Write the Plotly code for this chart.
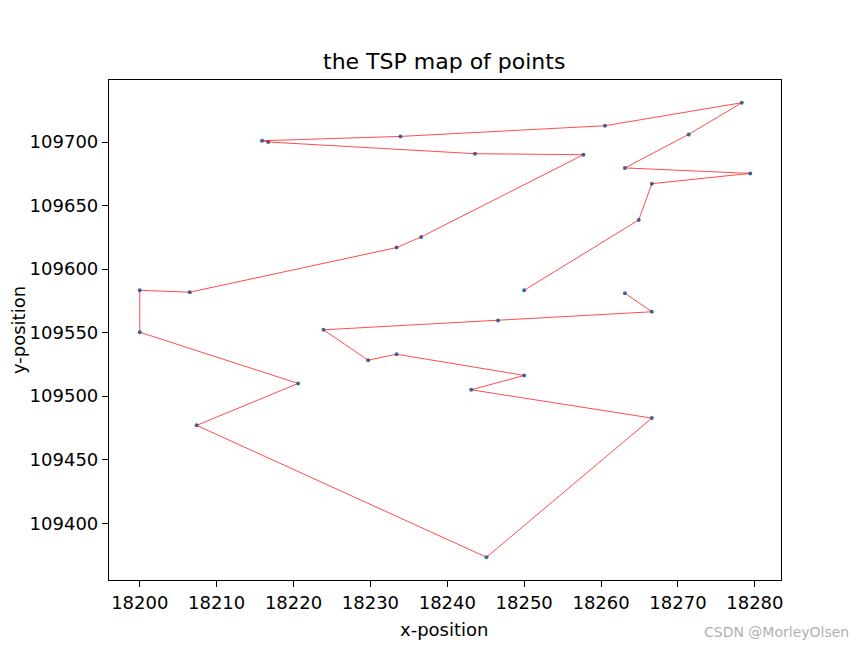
import plotly.graph_objects as go

# TSP tour order
xs = [18250.0, 18264.9, 18266.6, 18279.4, 18263.1, 18271.4, 18278.3, 18260.5,
      18233.9, 18215.9, 18216.7, 18243.6, 18257.7, 18236.6, 18233.4, 18206.5,
      18200.0, 18200.0, 18220.6, 18207.4, 18245.1, 18266.6, 18243.1, 18250.0,
      18233.4, 18229.7, 18223.9, 18246.6, 18266.6, 18263.1]
ys = [109583.3, 109638.7, 109667.2, 109675.3, 109679.6, 109706.0, 109730.9, 109712.8,
      109704.4, 109701.0, 109700.0, 109690.8, 109690.0, 109625.3, 109616.9, 109581.8,
      109583.3, 109550.3, 109510.0, 109477.0, 109373.2, 109482.7, 109505.0, 109516.3,
      109533.0, 109528.3, 109552.2, 109559.5, 109566.4, 109581.0]

x_ticks = [18200, 18210, 18220, 18230, 18240, 18250, 18260, 18270, 18280]
y_ticks = [109400, 109450, 109500, 109550, 109600, 109650, 109700]

FONT = "DejaVu Sans"

fig = go.Figure()
fig.add_trace(go.Scatter(x=xs, y=ys, mode="markers",
                         marker=dict(size=4, color="#1f77b4"), hoverinfo="skip"))
fig.add_trace(go.Scatter(x=xs, y=ys, mode="lines",
                         line=dict(color="rgba(255,0,0,0.7)", width=1)))

axis_common = dict(showgrid=False, zeroline=False, showline=True, linecolor="black",
                   linewidth=1.2, mirror=True, ticks="outside", ticklen=6,
                   tickwidth=1.2, tickcolor="black", automargin=False,
                   tickfont=dict(family=FONT, size=18, color="black"))

fig.update_xaxes(range=[18196.0, 18283.4], tickvals=x_ticks,
                 ticktext=[str(v) for v in x_ticks], **axis_common)
fig.update_yaxes(range=[109355.3, 109748.8], tickvals=y_ticks,
                 ticktext=[str(v) for v in y_ticks],
                 title=dict(text="y-position", standoff=2,
                            font=dict(family=FONT, size=18, color="black")),
                 **axis_common)

# the page body adds an 8px offset; margins compensate so the plot area
# sits at x 109..781, y 80..580 in the window
pw, ph = 672, 500
L, T = 109, 80
fig.update_layout(
    width=866, height=651,
    margin=dict(l=L - 8, r=866 + 8 - 781, t=T - 8, b=651 + 8 - 580),
    paper_bgcolor="white", plot_bgcolor="white",
    showlegend=False,
    annotations=[
        dict(text="the TSP map of points", xref="paper", yref="paper",
             x=(444 - L) / pw, y=(T - 62) / ph + 1, xanchor="center", yanchor="middle",
             showarrow=False, font=dict(family=FONT, size=22, color="black")),
        dict(text="x-position", xref="paper", yref="paper",
             x=(444 - L) / pw, y=-(629 - 580) / ph, xanchor="center", yanchor="middle",
             showarrow=False, font=dict(family=FONT, size=18, color="black")),
        dict(text="CSDN @MorleyOlsen", xref="paper", yref="paper",
             x=(851 - L) / pw, y=-(632 - 580) / ph, xanchor="right", yanchor="middle",
             showarrow=False, font=dict(family=FONT, size=14, color="#b0b0b0")),
    ],
)

fig.write_html("out.html")
